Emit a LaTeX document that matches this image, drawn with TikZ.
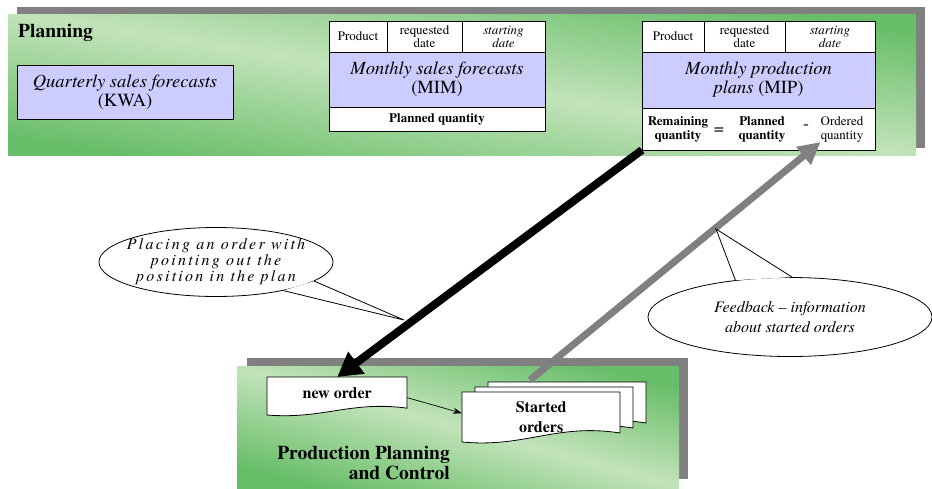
\documentclass[tikz,border=0pt]{standalone}
\usepackage{fontspec}
\setmainfont{texgyretermes}[Extension=.otf, UprightFont=*-regular, BoldFont=*-bold, ItalicFont=*-italic, BoldItalicFont=*-bolditalic]
\usetikzlibrary{positioning}
\usetikzlibrary{shapes.geometric,arrows.meta}
\definecolor{panelgreen}{RGB}{104,190,104}
\definecolor{panellight}{RGB}{194,227,186}
\definecolor{shadowgray}{RGB}{128,128,128}
\definecolor{planblue}{RGB}{204,204,255}
\tikzset{
    docsheet/.pic={
		\draw[fill=white, line width=0.8pt] (0,0) -- (1,0) -- (1,0.82) .. controls (0.6,0.62) and (0.4,1.12) .. (0,1) -- cycle;
	}
}
\tikzset{
    panel/.style={top color=panelgreen, bottom color=panelgreen, middle color=panellight},
    cell/.style={draw, fill=white, line width=0.8pt, inner sep=1pt, outer sep=0pt, align=center, anchor=north west, font=\fontsize{13}{13}\selectfont},
    planbox/.style={cell, fill=planblue, font=\fontsize{18.5}{19}\selectfont},
    qtytext/.style={inner sep=0pt, align=center, font=\bfseries\fontsize{13}{14}\selectfont},
    callout/.style={ellipse, draw, fill=white, line width=0.8pt, inner xsep=-40pt, inner ysep=-8pt, align=center},
    doctext/.style={inner sep=0pt, align=center, anchor=north west, font=\bfseries\fontsize{16}{20}\selectfont},
    paneltitle/.style={inner sep=0pt, font=\bfseries\fontsize{19.5}{20}\selectfont},
}
\begin{document}
\begin{tikzpicture}[x=1pt, y=-1pt]
	\useasboundingbox (0,0) rectangle (932,488);
	% planning panel
	\fill[shadowgray] (17,7) rectangle (925,148);
	\shade[panel, shading angle=-9] (8,14) rectangle (916,155);
	\node[paneltitle, anchor=base west] (plantitle) at (18,37) {Planning};
	\node[planbox, minimum width=216pt, minimum height=54pt] (kwa) at (17,65) {\textit{Quarterly sales forecasts}\\(KWA)};
	% MIM table
	\node[cell, minimum width=58pt, minimum height=31pt] (mimprod) at (329,21) {Product};
	\node[cell, minimum width=75pt, minimum height=31pt] (mimreq) at (387,21) {requested\\date};
	\node[cell, minimum width=83pt, minimum height=31pt] (mimstart) at (462,21) {\textit{starting}\\\textit{date}};
	\node[planbox, minimum width=216pt, minimum height=55pt] (mim) at (329,52) {\textit{Monthly sales forecasts}\\(MIM)};
	\node[cell, minimum width=216pt, minimum height=24pt, font=\bfseries\fontsize{13}{13}\selectfont] (mimqty) at (329,107) {Planned quantity};
	% MIP table
	\node[cell, minimum width=62pt, minimum height=31pt] (mipprod) at (642,21) {Product};
	\node[cell, minimum width=81pt, minimum height=31pt] (mipreq) at (704,21) {requested\\date};
	\node[cell, minimum width=90pt, minimum height=31pt] (mipstart) at (785,21) {\textit{starting}\\\textit{date}};
	\node[planbox, minimum width=233pt, minimum height=56pt] (mip) at (642,52) {\textit{Monthly production}\\\textit{plans} (MIP)};
	\node[cell, minimum width=233pt, minimum height=42pt] (mipqty) at (642,108) {};
	\node[qtytext] (remqty) at (678,129) {Remaining\\quantity};
	\node[qtytext, font=\fontsize{18}{18}\selectfont] (eqsign) at (719,131) {=};
	\node[qtytext] (planqty) at (762,129) {Planned\\quantity};
	\node[qtytext, font=\fontsize{18}{18}\selectfont] (minsign) at (806,127) {-};
	\node[qtytext, font=\fontsize{13}{14}\selectfont] (ordqty) at (842,129) {Ordered\\quantity};
	% production planning panel
	\fill[shadowgray] (247,358) rectangle (688,479);
	\shade[panel, shading angle=-15] (237,366) rectangle (679,488);
	\pic[xscale=140, yscale=38] at (267,377) {docsheet};
	\node[doctext, minimum width=140pt, minimum height=31pt] (neworder) at (267,377) {new order};
	\pic[xscale=158, yscale=50] at (488,382) {docsheet};
	\pic[xscale=158, yscale=50] at (475,387) {docsheet};
	\pic[xscale=158, yscale=50] at (462,392) {docsheet};
	\node[doctext, minimum width=158pt, minimum height=50pt] (started) at (462,392) {Started\\orders};
	\node[paneltitle, align=right, anchor=north east] (ppctitle) at (450,446) {Production Planning\\and Control};
	\draw[line width=0.7pt, -{Stealth[length=9pt, width=6pt]}] ([yshift=-5pt]neworder.east) -- ([yshift=4pt]started.west);
	% order and feedback arrows
	\coordinate (fbtail) at (530,380);
	\draw[line width=8pt, -{Triangle[length=24pt, width=26pt]}] (mipqty.south west) -- (neworder.north);
	\draw[shadowgray, line width=7pt, -{Triangle[length=22pt, width=22pt]}] (fbtail) -- (ordqty.south west);
	% callouts
	\node[callout, minimum width=234pt, minimum height=69pt, font=\itshape\fontsize{16}{16}\selectfont\addfontfeatures{LetterSpace=14}] (placing) at (216,262) {Placing an order with\\pointing out the\\position in the plan};
	\coordinate (placetip) at (404,320);
	\fill[white] (placing.-11) -- (placetip) -- (placing.-23) -- cycle;
	\draw[line width=0.8pt] (placing.-11) -- (placetip) -- (placing.-23);
	\node[callout, minimum width=284pt, minimum height=79pt, font=\itshape\fontsize{16}{20}\selectfont] (feedback) at (790,317) {Feedback -- information\\about started orders};
	\coordinate (feedtip) at (716,229);
	\fill[white] (feedback.146) -- (feedtip) -- (feedback.87) -- cycle;
	\draw[line width=0.8pt] (feedback.146) -- (feedtip) -- (feedback.87);
\end{tikzpicture}
\end{document}
